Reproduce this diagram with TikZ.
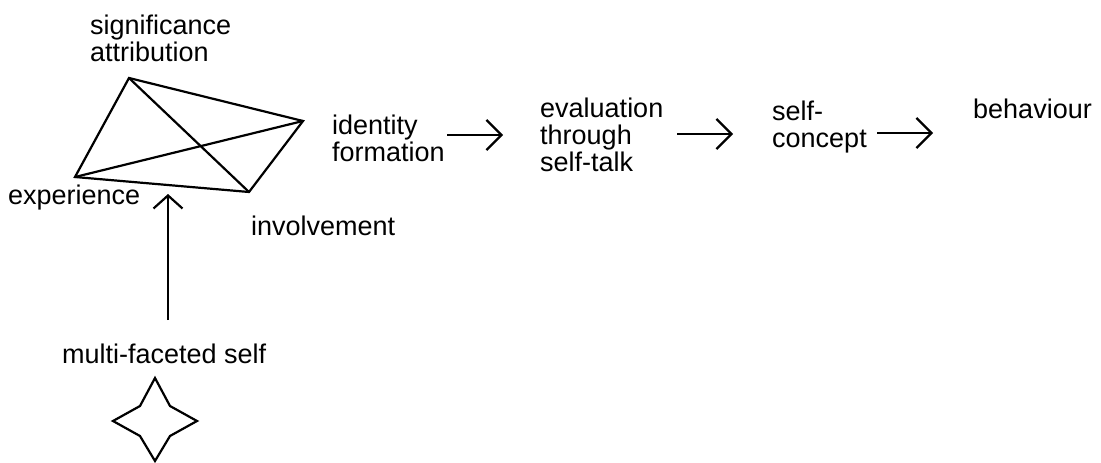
\documentclass[tikz,border=0pt]{standalone}
\usepackage{fontspec}
\setmainfont{Liberation Sans}
\usetikzlibrary{arrows.meta}
\tikzset{
  lbl/.style={anchor=base west, inner sep=0pt, align=left,
              font=\fontsize{27}{27}\selectfont},
  edge/.style={line width=2.2pt, line join=miter},
  flow/.style={line width=2.2pt, -{Straight Barb[length=15pt,width=30pt,line width=2.2pt]}},
  upflow/.style={line width=1.6pt, -{Straight Barb[length=13pt,width=29pt,line width=2.2pt]}}
}
\begin{document}
\begin{tikzpicture}[x=1pt,y=-1pt]
\useasboundingbox (0,0) rectangle (1101,463);
% quadrilateral
\coordinate (T) at (129,78);
\coordinate (R) at (303,121);
\coordinate (B) at (249,192);
\coordinate (L) at (75,177);
\draw[edge] (T) -- (R) -- (B) -- (L) -- cycle;
\draw[edge] (T) -- (B);
\draw[edge] (L) -- (R);
% labels (base anchor = baseline of the last line)
\node[lbl] (sig) at (90,61) {significance\\attribution};
\node[lbl] (exp) at (8,204) {experience};
\node[lbl] (inv) at (251,235) {involvement};
\node[lbl] (mfs) at (62,363) {multi-faceted self};
\node[lbl] (idf) at (332,161) {identity\\formation};
\node[lbl] (eva) at (540,171) {evaluation\\through\\self-talk};
\node[lbl] (sc) at (772,147) {self-\\concept};
\node[lbl] (beh) at (973,118) {behaviour};
% arrows
\coordinate (upb) at (168,320);
\coordinate (upt) at (168,194);
\draw[upflow] (upb) -- (upt);
\coordinate (a1s) at (447,135);
\coordinate (a1e) at (503,135);
\coordinate (a2s) at (677,134);
\coordinate (a2e) at (733,134);
\coordinate (a3s) at (877,133);
\coordinate (a3e) at (933,133);
\draw[flow] (a1s) -- (a1e);
\draw[flow] (a2s) -- (a2e);
\draw[flow] (a3s) -- (a3e);
% four-pointed star
\draw[edge] (155,378) -- (170,406) -- (197,421) -- (170,436) -- (155,461)
  -- (140,436) -- (113,421) -- (140,406) -- cycle;
\end{tikzpicture}
\end{document}
